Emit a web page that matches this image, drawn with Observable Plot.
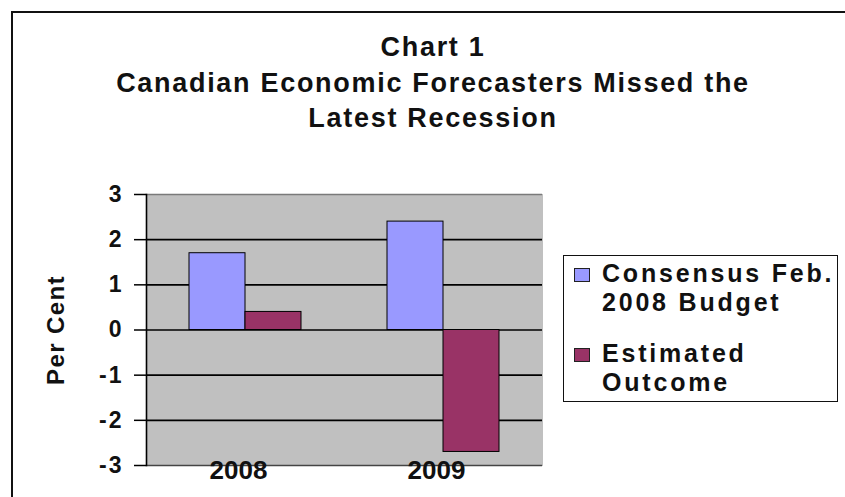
<!DOCTYPE html>
<html>
<head>
<meta charset="utf-8">
<script src="https://cdn.jsdelivr.net/npm/d3@7"></script>
<script src="https://cdn.jsdelivr.net/npm/@observablehq/plot@0.6"></script>
<style>
  html, body { margin: 0; padding: 0; background: #fff; }
  #wrap { position: relative; width: 845px; height: 497px; overflow: hidden; font-family: "Liberation Sans", Arial, sans-serif; font-weight: bold; color: #111; }
  #outer { position: absolute; left: 11px; top: 11px; right: -10px; bottom: -10px; border: 2px solid #111; }
  #plot { position: absolute; left: 0; top: 0; }
  #plot g[aria-label="y-axis tick label"] { font-size: 23px; letter-spacing: 2px; }
  #title { position: absolute; left: 0; top: 30px; width: 866px; text-align: center; font-size: 27px; line-height: 35.5px; letter-spacing: 1.7px; }
  #ylabel { position: absolute; left: 56px; top: 330px; transform: translate(-50%, -50%) rotate(-90deg); font-size: 24px; letter-spacing: 1.4px; white-space: nowrap; }
  #legend { position: absolute; left: 563px; top: 255px; width: 273px; height: 145px; border: 1.5px solid #111; background: #fff; }
  .item { position: absolute; left: 38px; width: 236px; font-size: 25px; line-height: 29px; letter-spacing: 2.8px; }
  .sw { position: absolute; left: -28px; top: 9px; width: 14px; height: 12px; border: 1px solid #222; }
</style>
</head>
<body>
<div id="wrap">
  <div id="outer"></div>
  <div id="plot"></div>
  <div id="title"></div>
  <div id="ylabel"></div>
  <div id="legend"></div>
</div>
<script>
// ---- data ----
const titleLines = ["Chart 1", "Canadian Economic Forecasters Missed the", "Latest Recession"];
const yLabel = "Per Cent";
const years = ["2008", "2009"];
const series = ["Consensus Feb. 2008 Budget", "Estimated Outcome"];
const consensus = [1.7, 2.4];
const estimated = [0.4, -2.7];
const yTicks = [-3, -2, -1, 0, 1, 2, 3];
const colors = ["#9999ff", "#993366"];

const rows = [];
years.forEach((yr, i) => {
  rows.push({year: yr, series: series[0], value: consensus[i]});
  rows.push({year: yr, series: series[1], value: estimated[i]});
});

const chart = Plot.plot({
  width: 845,
  height: 497,
  marginLeft: 145,
  marginRight: 303,
  marginTop: 194,
  marginBottom: 32,
  style: {fontFamily: "'Liberation Sans', Arial, sans-serif", fontWeight: "bold", fontSize: "21px", color: "#111", background: "transparent"},
  fx: {domain: years, padding: 0, label: null},
  x: {domain: series, paddingInner: 0, paddingOuter: 0.757, axis: null},
  y: {domain: [-3, 3], label: null},
  color: {domain: series, range: colors},
  marks: [
    Plot.frame({fill: "#c0c0c0", stroke: "#c0c0c0"}),
    Plot.ruleY(yTicks.filter(v => Math.abs(v) < 3), {stroke: "#000", strokeWidth: 1.6}),
    Plot.ruleY([yTicks[yTicks.length - 1]], {stroke: "#7a7a7a", strokeWidth: 1.5}),
    Plot.ruleY([yTicks[0]], {stroke: "#444", strokeWidth: 1.5}),
    Plot.barY(rows, {fx: "year", x: "series", y: "value", fill: "series", stroke: "#000", strokeWidth: 1}),
    Plot.frame({anchor: "left", facetAnchor: "left", stroke: "#000", strokeWidth: 1.6}),
    Plot.axisY({ticks: yTicks, tickFormat: d => String(d), tickSize: 12, tickPadding: 11, fontSize: 23, stroke: "#000", strokeWidth: 1.5, label: null}),
    Plot.axisFx({anchor: "bottom", tickSize: 0, tickPadding: -5, fontSize: 26, dx: -7, label: null, letterSpacing: "2px"})
  ]
});
document.getElementById("plot").appendChild(chart);

// title
const t = document.getElementById("title");
titleLines.forEach(l => { const d = document.createElement("div"); d.textContent = l; t.appendChild(d); });
document.getElementById("ylabel").textContent = yLabel;

// legend from the same scale
const color = chart.scale("color");
const lg = document.getElementById("legend");
const tops = [3, 83];
series.forEach((s, i) => {
  const it = document.createElement("div");
  it.className = "item";
  it.style.top = tops[i] + "px";
  const sw = document.createElement("div");
  sw.className = "sw";
  sw.style.background = color.apply(s);
  it.appendChild(sw);
  it.appendChild(document.createTextNode(s));
  lg.appendChild(it);
});
</script>
</body>
</html>
